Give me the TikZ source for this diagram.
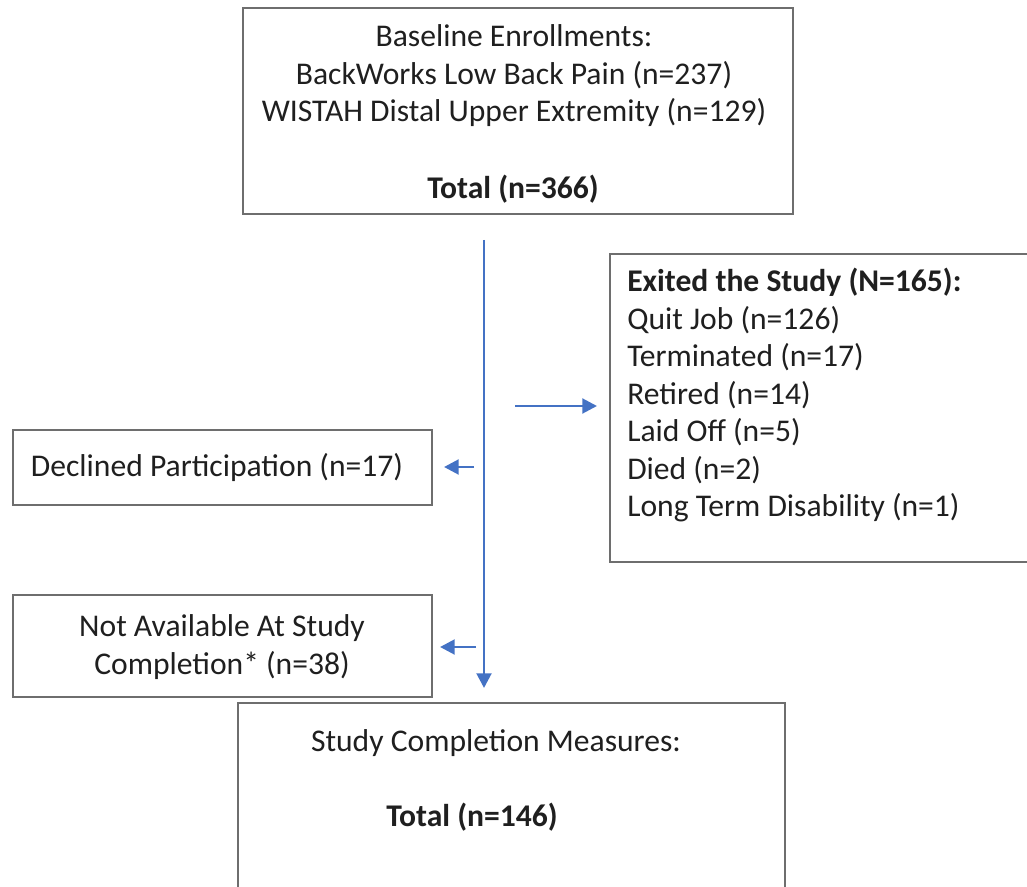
\documentclass[tikz,border=0pt]{standalone}
\usepackage{fontspec}
\setmainfont{Carlito}
\usetikzlibrary{arrows.meta}
\definecolor{boxgray}{RGB}{110,110,110}
\definecolor{arrowblue}{RGB}{68,114,196}
\tikzset{
  box/.style={draw=boxgray, line width=1.4pt, rectangle, inner sep=0pt},
  txt/.style={inner sep=0pt, font=\fontsize{23.7}{28.1}\selectfont, text=black!88},
  flow/.style={draw=arrowblue, line width=2.2pt, -{Triangle[length=11pt,width=11pt]}},
}
\begin{document}
\begin{tikzpicture}[x=0.75pt,y=-0.75pt]
\useasboundingbox (0,0) rectangle (1027,887);
% boxes
\node[box, minimum width=550*0.75pt, minimum height=206*0.75pt] (top) at (518,111) {};
\node[box, minimum width=430*0.75pt, minimum height=308*0.75pt] (exit) at (825,408) {};
\node[box, minimum width=419*0.75pt, minimum height=75*0.75pt] (decl) at (222.5,467.5) {};
\node[box, minimum width=419*0.75pt, minimum height=102*0.75pt] (nav) at (222.5,646) {};
\node[box, minimum width=547*0.75pt, minimum height=200*0.75pt] (comp) at (511.5,803) {};
% texts
\node[txt, align=center] (toptxt) at (514,76) {Baseline Enrollments:\\BackWorks Low Back Pain (n=237)\\WISTAH Distal Upper Extremity (n=129)};
\node[txt] (toptot) at (513,189) {\textbf{Total (n=366)}};
\node[txt, align=left, anchor=north west] (exittxt) at (627,268) {\textbf{Exited the Study (N=165):}\\Quit Job (n=126)\\Terminated (n=17)\\Retired (n=14)\\Laid Off (n=5)\\Died (n=2)\\Long Term Disability (n=1)};
\node[txt] (decltxt) at (217,467) {Declined Participation (n=17)};
\node[txt, align=center] (navtxt) at (222,647) {Not Available At Study\\Completion* (n=38)};
\node[txt] (comptxt) at (496,743) {Study Completion Measures:};
\node[txt] (comptot) at (472,817) {\textbf{Total (n=146)}};
% connectors
\coordinate (vstart) at (484,240);
\coordinate (vend) at (484,688);
\coordinate (rstart) at (515,406);
\coordinate (rend) at (597,406);
\coordinate (l1s) at (474,467);
\coordinate (l1e) at (444,467);
\coordinate (l2s) at (476,647);
\coordinate (l2e) at (440,647);
\draw[flow] (vstart) -- (vend);
\draw[flow] (rstart) -- (rend);
\draw[flow] (l1s) -- (l1e);
\draw[flow] (l2s) -- (l2e);
\end{tikzpicture}
\end{document}
